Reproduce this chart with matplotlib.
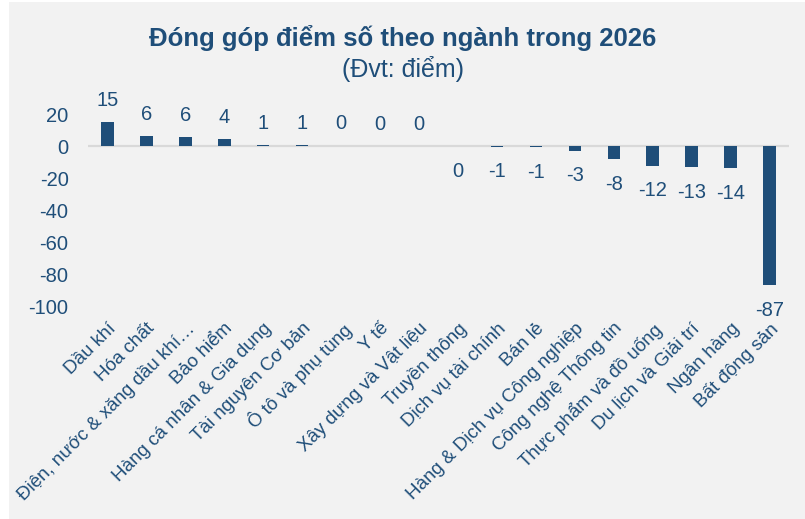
import matplotlib
matplotlib.use("Agg")
import matplotlib.pyplot as plt
from matplotlib.patches import Rectangle

plt.rcParams['font.family'] = ['Liberation Sans', 'DejaVu Sans']

# ---------------- data ----------------
categories = [
    "Dầu khí", "Hóa chất", "Điện, nước & xăng dầu khí…", "Bảo hiểm",
    "Hàng cá nhân & Gia dụng", "Tài nguyên Cơ bản", "Ô tô và phụ tùng", "Y tế",
    "Xây dựng và Vật liệu", "Truyền thông", "Dịch vụ tài chính", "Bán lẻ",
    "Hàng & Dịch vụ Công nghiệp", "Công nghệ Thông tin", "Thực phẩm và đồ uống",
    "Du lịch và Giải trí", "Ngân hàng", "Bất động sản",
]
values = [15.0, 6.2, 5.8, 4.1, 0.7, 0.6, 0.3, 0.2, 0.1,
          -0.2, -0.6, -0.7, -3.1, -8.4, -12.4, -13.2, -14.0, -87.0]
yticks = [20, 0, -20, -40, -60, -80, -100]

BLUE = "#1F4E79"
BG = "#F2F2F2"
W, H = 805, 519

fig = plt.figure(figsize=(W / 100, H / 100), dpi=100, facecolor=BG)
# thin white strip on the left and top edge, as in the source image
fig.patches.append(Rectangle((0, 0), 9 / W, 1, transform=fig.transFigure,
                             facecolor="white", edgecolor="none", zorder=-10))
fig.patches.append(Rectangle((0, 1 - 2 / H), 1, 2 / H, transform=fig.transFigure,
                             facecolor="white", edgecolor="none", zorder=-10))

ax = fig.add_axes([88 / W, 1 - 306 / H, (789 - 88) / W, (306 - 114) / H])
ax.set_facecolor("none")

x = range(len(categories))
ax.axhline(0, color="#D9D9D9", lw=1.6, zorder=1)
ax.bar(x, values, width=0.32, color=BLUE, zorder=3)

for i, v in enumerate(values):
    off = 15.5 if v >= 0 else -18
    ax.annotate(f"{int(round(v))}", (i, v), xytext=(0, off), textcoords="offset points",
                ha="center", va="center", fontsize=14.5, color=BLUE)

ax.set_xlim(-0.5, len(categories) - 0.5)
ax.set_ylim(-100, 20)
ax.set_yticks(yticks)
ax.set_yticklabels([str(t) for t in yticks])
ax.set_xticks(list(x))
ax.set_xticklabels(categories, rotation=45, ha="right", rotation_mode="anchor")
ax.tick_params(axis="y", length=0, pad=14, labelsize=14.5, labelcolor=BLUE)
ax.tick_params(axis="x", length=0, pad=10, labelsize=13.5, labelcolor=BLUE)
for s in ax.spines.values():
    s.set_visible(False)

fig.text(0.5, 1 - 38 / H, "Đóng góp điểm số theo ngành trong 2026", ha="center", va="center",
         fontsize=18.5, fontweight="bold", color=BLUE)
fig.text(0.5, 1 - 69 / H, "(Đvt: điểm)", ha="center", va="center",
         fontsize=18, color=BLUE)

fig.savefig("out.png", dpi=100, facecolor=fig.get_facecolor())
